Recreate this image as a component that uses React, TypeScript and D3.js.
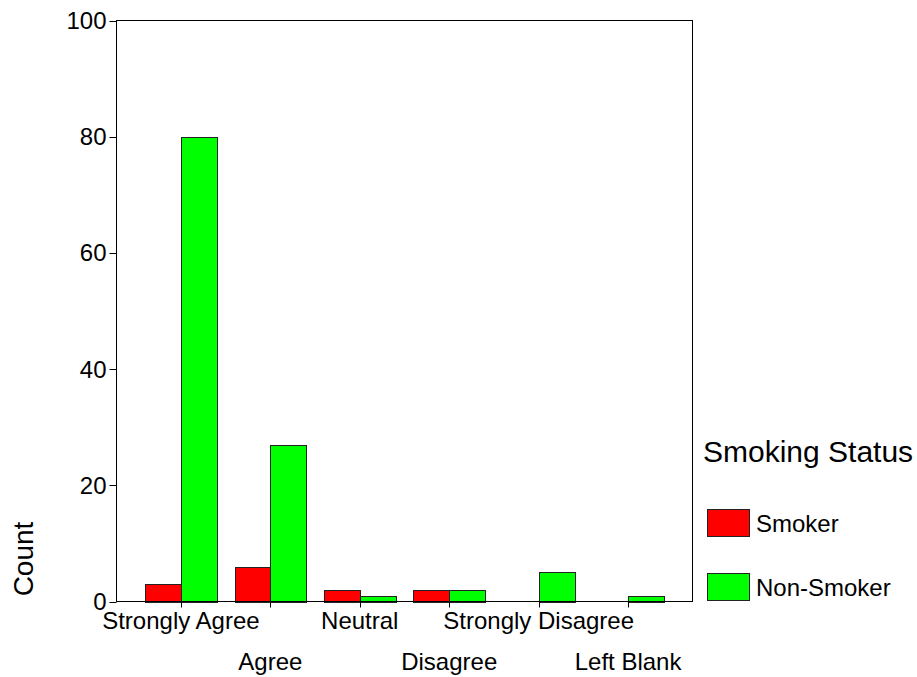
import React from "react";
import * as d3 from "d3";

const categories = ["Strongly Agree", "Agree", "Neutral", "Disagree", "Strongly Disagree", "Left Blank"];
const smoker = [3, 6, 2, 2, 0, 0];
const nonSmoker = [80, 27, 1, 2, 5, 1];
const seriesNames = ["Smoker", "Non-Smoker"];
const seriesColors = ["#ff0000", "#00ff00"];
const yTicks = [0, 20, 40, 60, 80, 100];

const W = 917;
const H = 677;
const left = 116.5;
const right = 692.5;
const top = 20.5;
const bottom = 601.5;
const FONT = "'Liberation Sans', Arial, Helvetica, sans-serif";

export default function App() {
  const x = d3.scalePoint<string>().domain(categories).range([left, right]).padding(0.72);
  const y = d3.scaleLinear().domain([0, 100]).range([bottom, top]);
  const step = x.step();
  const bw = step * 0.4;
  const series = [smoker, nonSmoker];

  return (
    <svg width={W} height={H} style={{ position: "absolute", left: 0, top: 0, background: "#fff" }} fontFamily={FONT}>
      {/* bars */}
      {categories.map((c, i) =>
        series.map((s, k) => {
          const v = s[i];
          if (!v) return null;
          const x0 = (x(c) as number) + (k === 0 ? -bw : 0);
          return (
            <rect
              key={c + k}
              x={Math.round(x0) + 0.5}
              y={Math.round(y(v)) + 0.5}
              width={Math.round(bw)}
              height={Math.round(y(0)) - Math.round(y(v))}
              fill={seriesColors[k]}
              stroke="#222"
              strokeWidth={1}
            />
          );
        })
      )}
      {/* frame */}
      <rect x={left} y={top} width={right - left} height={bottom - top} fill="none" stroke="#000" strokeWidth={1} />
      {/* y ticks */}
      {yTicks.map((t) => (
        <g key={t}>
          <line x1={left - 7} x2={left} y1={Math.round(y(t)) + 0.5} y2={Math.round(y(t)) + 0.5} stroke="#000" />
          <text x={left - 10} y={y(t)} dy="0.35em" textAnchor="end" fontSize={24} fill="#000">
            {t}
          </text>
        </g>
      ))}
      {/* x ticks */}
      {categories.map((c, i) => (
        <g key={c}>
          <line
            x1={Math.round(x(c) as number) + 0.5}
            x2={Math.round(x(c) as number) + 0.5}
            y1={bottom}
            y2={bottom + 6}
            stroke="#000"
          />
          <text x={x(c)} y={i % 2 === 0 ? 629 : 670} textAnchor="middle" fontSize={24} fill="#000">
            {c}
          </text>
        </g>
      ))}
      {/* y axis title */}
      <text transform="translate(33,559) rotate(-90)" textAnchor="middle" fontSize={28} fill="#000">
        Count
      </text>
      {/* legend */}
      <text x={703} y={462} fontSize={30} fill="#000">
        Smoking Status
      </text>
      {seriesNames.map((n, k) => (
        <g key={n}>
          <rect x={707.5} y={509.5 + k * 64} width={42} height={27} fill={seriesColors[k]} stroke="#222" />
          <text x={756} y={532 + k * 64} fontSize={24} fill="#000">
            {n}
          </text>
        </g>
      ))}
    </svg>
  );
}
